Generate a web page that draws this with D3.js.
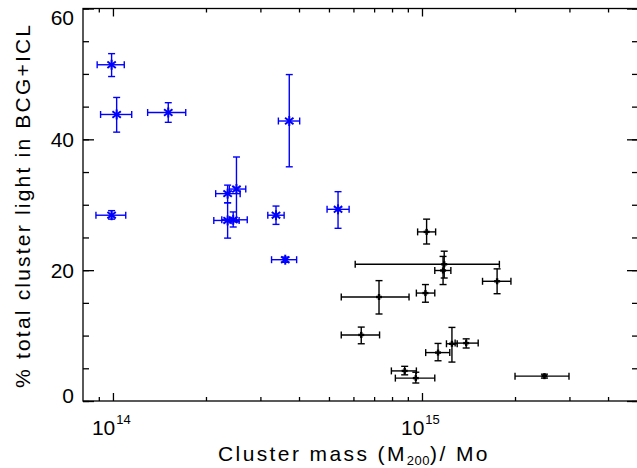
<!DOCTYPE html>
<html><head><meta charset="utf-8">
<script src="https://cdn.jsdelivr.net/npm/d3@7"></script>
<style>
body{margin:0;background:#fff;}
svg{display:block;}
text{font-family:"Liberation Sans","DejaVu Sans",sans-serif;fill:#000;}
</style></head>
<body>
<svg id="c" width="637" height="468"></svg>
<script>
// ---------- data ----------
const blueMass   = [0.99e14, 1.028e14, 1.51e14, 3.72e14, 0.99e14, 2.35e14, 2.51e14, 2.35e14, 2.45e14, 3.37e14, 3.61e14, 5.35e14];
const blueMassLo = [0.889e14, 0.912e14, 1.295e14, 3.43e14, 0.881e14, 2.15e14, 2.38e14, 2.12e14, 2.25e14, 3.17e14, 3.26e14, 4.93e14];
const blueMassHi = [1.088e14, 1.15e14, 1.72e14, 4.02e14, 1.10e14, 2.58e14, 2.69e14, 2.56e14, 2.72e14, 3.58e14, 3.93e14, 5.81e14];
const bluePct    = [51.4, 43.8, 44.1, 42.8, 28.4, 31.7, 32.4, 27.6, 27.7, 28.4, 21.6, 29.3];
const bluePctLo  = [49.6, 41.1, 42.6, 35.8, 27.8, 30.3, 27.4, 24.9, 26.6, 27.0, 21.2, 26.4];
const bluePctHi  = [53.1, 46.4, 45.6, 49.9, 29.1, 33.0, 37.3, 30.3, 28.9, 29.8, 22.0, 32.0];

const blackMass   = [1.035e15, 1.18e15, 1.17e15, 1.75e15, 7.26e14, 1.026e15, 6.36e14, 1.127e15, 1.25e15, 1.39e15, 8.79e14, 9.55e14, 2.49e15];
const blackMassLo = [0.968e15, 6.08e14, 1.10e15, 1.57e15, 5.48e14, 0.959e15, 5.48e14, 1.028e15, 1.20e15, 1.28e15, 7.96e14, 8.2e14, 2.0e15];
const blackMassHi = [1.107e15, 1.78e15, 1.24e15, 1.94e15, 9.08e14, 1.10e15, 7.29e14, 1.23e15, 1.30e15, 1.52e15, 9.59e14, 1.10e15, 2.99e15];
const blackPct    = [25.85, 20.9, 19.95, 18.3, 15.9, 16.5, 10.1, 7.4, 8.75, 8.85, 4.6, 3.5, 3.8];
const blackPctLo  = [24.0, 18.8, 17.8, 16.4, 13.3, 15.1, 8.75, 6.15, 5.95, 8.1, 4.0, 2.75, 3.5];
const blackPctHi  = [27.8, 22.9, 22.1, 20.2, 18.4, 17.8, 11.3, 8.8, 11.25, 9.5, 5.3, 4.4, 4.1];

const yTicks = [0, 20, 40, 60];
const yMinor = d3.range(0, 61, 5);
const xMajor = [1e14, 1e15];
const xMinor = [9e13, 2e14, 3e14, 4e14, 5e14, 6e14, 7e14, 8e14, 9e14, 2e15, 3e15, 4e15];
const xLabelExp = ["14", "15"];
const yTitle = "% total cluster light in BCG+ICL";

// ---------- layout ----------
const svg = d3.select("#c");
const L = 83, R = 638, T = 8.5, B = 401;
const x = d3.scaleLog().domain([8e13, 5e15]).range([L, R]);
const y = d3.scaleLinear().domain([0, 60]).range([B, T]);

const g = svg.append("g");
g.append("rect").attr("x", L).attr("y", T).attr("width", R - L).attr("height", B - T)
  .attr("fill", "none").attr("stroke", "#000").attr("stroke-width", 1.3);

function inward(axisGen, tr, vals, len) {
  const a = g.append("g").attr("transform", tr)
    .call(axisGen.tickValues(vals).tickSize(len).tickFormat(""));
  a.select(".domain").remove();
  a.selectAll("line").attr("stroke", "#000").attr("stroke-width", 1.3);
}
inward(d3.axisTop(x), `translate(0,${B})`, xMajor, 8);
inward(d3.axisTop(x), `translate(0,${B})`, xMinor, 4);
inward(d3.axisBottom(x), `translate(0,${T})`, xMajor, 8);
inward(d3.axisBottom(x), `translate(0,${T})`, xMinor, 4);
inward(d3.axisRight(y), `translate(${L},0)`, yTicks, 11);
inward(d3.axisRight(y), `translate(${L},0)`, yMinor, 6);
inward(d3.axisLeft(y), `translate(${R},0)`, yTicks, 11);
inward(d3.axisLeft(y), `translate(${R},0)`, yMinor, 6);

// y tick labels
const yl = g.append("g");
yTicks.forEach(v => {
  let shift = 0;
  if (v === 60) shift = 8.5;
  if (v === 0) shift = -6;
  yl.append("text").attr("x", 74).attr("y", y(v) + shift).attr("dy", "0.36em")
    .attr("text-anchor", "end").attr("font-size", 21).text(v);
});

// x tick labels (10^n)
xMajor.forEach((v, i) => {
  const t = g.append("text").attr("x", x(v) - 21).attr("y", 435).attr("text-anchor", "start").attr("font-size", 21);
  t.append("tspan").text("10");
  t.append("tspan").attr("font-size", 13).attr("dx", 1).attr("dy", -11).text(xLabelExp[i]);
});

// axis titles
const xt = g.append("text").attr("x", 218).attr("y", 461).attr("text-anchor", "start")
  .attr("font-size", 21).attr("letter-spacing", "2.4px");
xt.append("tspan").text("Cluster mass (M");
xt.append("tspan").attr("font-size", 13).attr("letter-spacing", "0.5px").attr("dy", 4).text("200");
xt.append("tspan").attr("dy", -4).text(")/ Mo");

g.append("text").attr("transform", "translate(30,206.5) rotate(-90)")
  .attr("text-anchor", "middle").attr("font-size", 21)
  .attr("textLength", 363).attr("lengthAdjust", "spacing").text(yTitle);

// ---------- error bars & symbols ----------
function drawSeries(mass, mLo, mHi, pct, pLo, pHi, color, symbol) {
  const s = g.append("g").attr("stroke", color).attr("stroke-width", 1.4).attr("fill", "none");
  const cap = 3.5;
  mass.forEach((m, i) => {
    const cx = x(m), cy = y(pct[i]);
    const x0 = x(mLo[i]), x1 = x(mHi[i]);
    const y0 = y(pLo[i]), y1 = y(pHi[i]);
    s.append("line").attr("x1", x0).attr("x2", x1).attr("y1", cy).attr("y2", cy);
    s.append("line").attr("x1", x0).attr("x2", x0).attr("y1", cy - cap).attr("y2", cy + cap);
    s.append("line").attr("x1", x1).attr("x2", x1).attr("y1", cy - cap).attr("y2", cy + cap);
    s.append("line").attr("x1", cx).attr("x2", cx).attr("y1", y0).attr("y2", y1);
    s.append("line").attr("x1", cx - cap).attr("x2", cx + cap).attr("y1", y0).attr("y2", y0);
    s.append("line").attr("x1", cx - cap).attr("x2", cx + cap).attr("y1", y1).attr("y2", y1);
    if (symbol === "star") {
      const r = 5, dx = 4.2, dy = 3.2;
      s.append("line").attr("x1", cx).attr("x2", cx).attr("y1", cy - r).attr("y2", cy + r).attr("stroke-width", 2);
      s.append("line").attr("x1", cx - dx).attr("x2", cx + dx).attr("y1", cy - dy).attr("y2", cy + dy).attr("stroke-width", 2);
      s.append("line").attr("x1", cx - dx).attr("x2", cx + dx).attr("y1", cy + dy).attr("y2", cy - dy).attr("stroke-width", 2);
    } else {
      const r = 3;
      s.append("line").attr("x1", cx - r).attr("x2", cx + r).attr("y1", cy).attr("y2", cy).attr("stroke-width", 2.4);
      s.append("line").attr("x1", cx).attr("x2", cx).attr("y1", cy - r).attr("y2", cy + r).attr("stroke-width", 2.4);
    }
  });
}
drawSeries(blueMass, blueMassLo, blueMassHi, bluePct, bluePctLo, bluePctHi, "#0000ff", "star");
drawSeries(blackMass, blackMassLo, blackMassHi, blackPct, blackPctLo, blackPctHi, "#000", "plus");
</script>
</body></html>
